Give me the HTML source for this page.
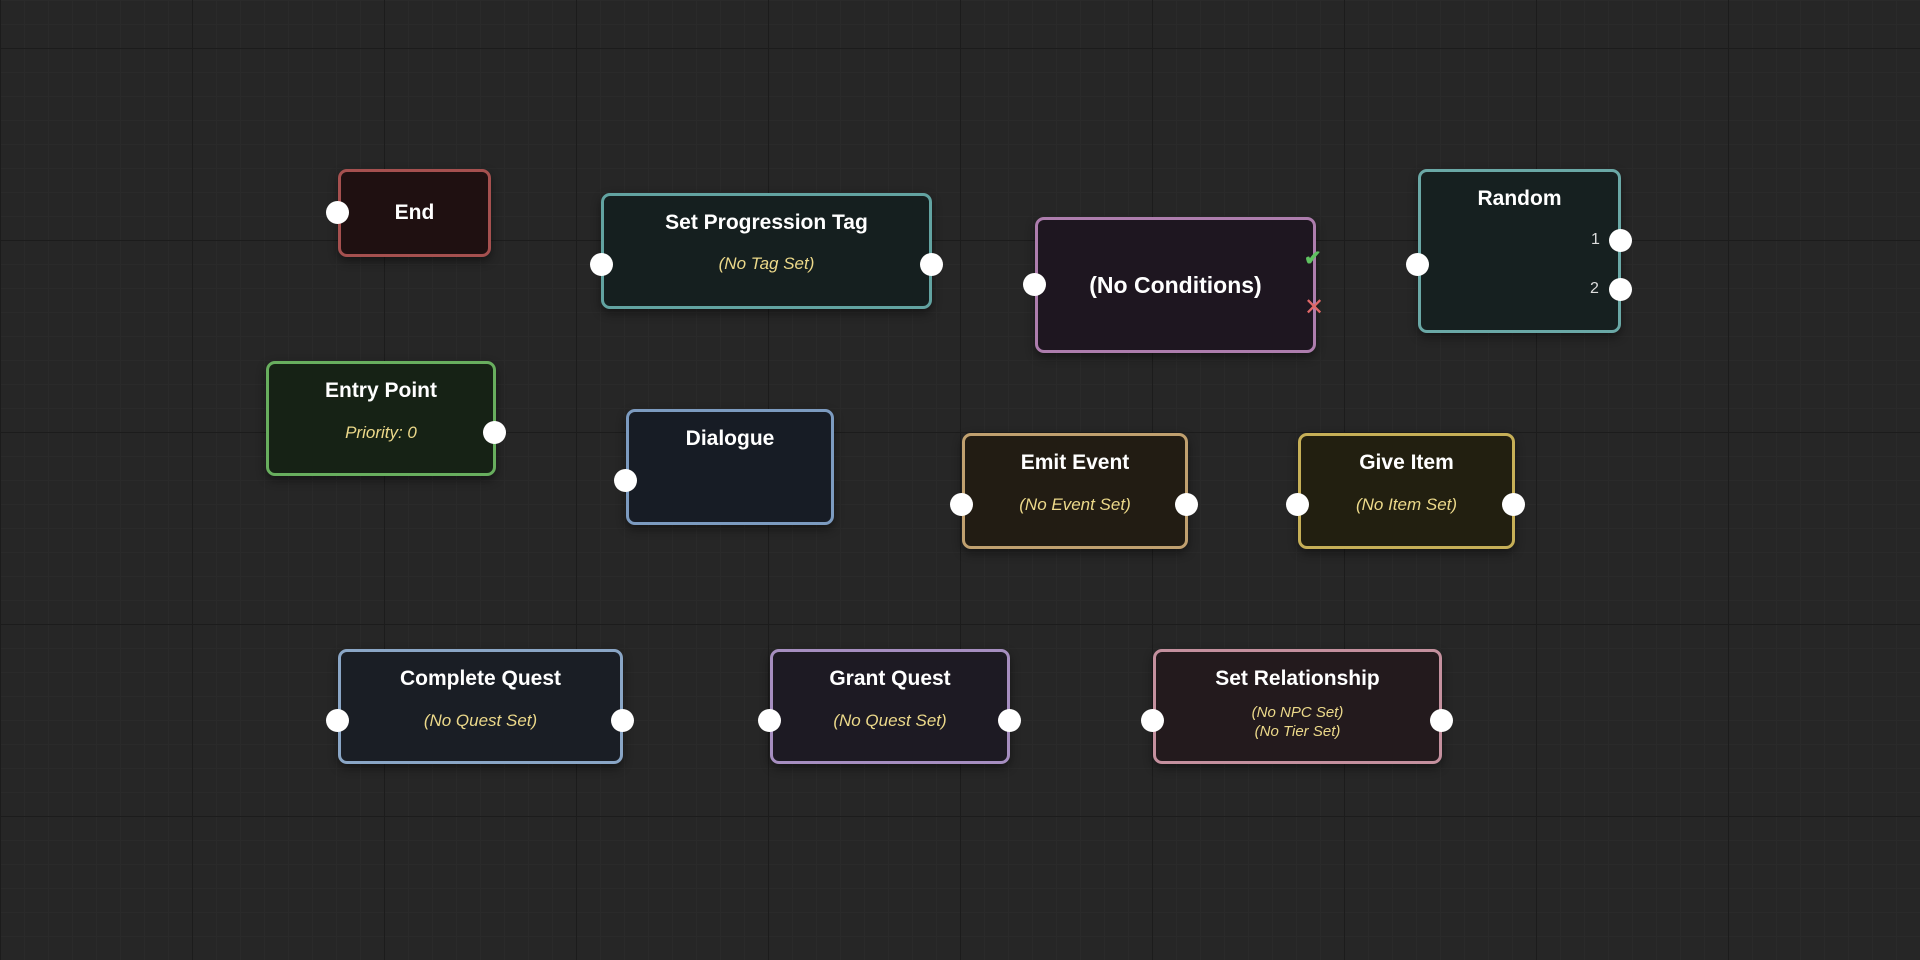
<!DOCTYPE html>
<html><head><meta charset="utf-8"><style>
html,body{margin:0;padding:0;width:1920px;height:960px;overflow:hidden;background:#262626;font-family:"Liberation Sans",sans-serif;}
.grid{position:absolute;inset:0;
background-image:
linear-gradient(to right,#1c1c1c 1px,transparent 1px),
linear-gradient(to bottom,#1c1c1c 1px,transparent 1px),
linear-gradient(to right,#2a2a2a 1px,transparent 1px),
linear-gradient(to bottom,#2a2a2a 1px,transparent 1px);
background-size:192px 192px,192px 192px,24px 24px,24px 24px;
background-position:0 48px,0 48px,0 0,0 0;}
.n{position:absolute;box-sizing:border-box;border:3px solid;border-radius:9px;box-shadow:0 4px 10px rgba(0,0,0,.45);}
.t{position:absolute;left:0;right:0;text-align:center;color:#fff;font-weight:bold;font-size:21px;line-height:24px;}
.s{position:absolute;left:0;right:0;text-align:center;color:#ecd98a;font-style:italic;font-size:17px;line-height:20px;}
.p{position:absolute;width:23px;height:23px;border-radius:50%;background:#fff;}
.lbl{position:absolute;color:#ddd;font-size:16px;}
</style></head><body>
<div class="grid"></div>

<div class="n" style="left:338px;top:169px;width:153px;height:88px;border-color:#a5504f;background:#1f1011;">
<div class="t" style="top:29px">End</div></div>
<div class="p" style="left:326px;top:201px"></div>

<div class="n" style="left:601px;top:193px;width:331px;height:116px;border-color:#62a3a1;background:#151f1f;">
<div class="t" style="top:15px">Set Progression Tag</div>
<div class="s" style="top:58px">(No Tag Set)</div></div>
<div class="p" style="left:590px;top:253px"></div>
<div class="p" style="left:920px;top:253px"></div>

<div class="n" style="left:1035px;top:217px;width:281px;height:136px;border-color:#ad7dad;background:#1e1620;">
<div class="t" style="top:53px;font-size:23px">(No Conditions)</div></div>
<div class="p" style="left:1023px;top:273px"></div>
<div style="position:absolute;left:1304px;top:247px;color:#5fc060;font-size:21px;font-weight:bold;line-height:24px">✔</div>
<div style="position:absolute;left:1304px;top:296px;color:#e06868;font-size:24px;line-height:24px">✕</div>

<div class="n" style="left:1418px;top:169px;width:203px;height:164px;border-color:#6aa8a6;background:#162020;">
<div class="t" style="top:15px">Random</div></div>
<div class="p" style="left:1406px;top:253px"></div>
<div class="lbl" style="left:1591px;top:231px">1</div>
<div class="lbl" style="left:1590px;top:280px">2</div>
<div class="p" style="left:1609px;top:229px"></div>
<div class="p" style="left:1609px;top:278px"></div>

<div class="n" style="left:266px;top:361px;width:230px;height:115px;border-color:#68ae5e;background:#162215;">
<div class="t" style="top:15px">Entry Point</div>
<div class="s" style="top:59px">Priority: 0</div></div>
<div class="p" style="left:483px;top:421px"></div>

<div class="n" style="left:626px;top:409px;width:208px;height:116px;border-color:#7c9bc0;background:#171c25;">
<div class="t" style="top:15px">Dialogue</div></div>
<div class="p" style="left:614px;top:469px"></div>

<div class="n" style="left:962px;top:433px;width:226px;height:116px;border-color:#c0a06f;background:#221c13;">
<div class="t" style="top:15px">Emit Event</div>
<div class="s" style="top:59px">(No Event Set)</div></div>
<div class="p" style="left:950px;top:493px"></div>
<div class="p" style="left:1175px;top:493px"></div>

<div class="n" style="left:1298px;top:433px;width:217px;height:116px;border-color:#c6af57;background:#221f10;">
<div class="t" style="top:15px">Give Item</div>
<div class="s" style="top:59px">(No Item Set)</div></div>
<div class="p" style="left:1286px;top:493px"></div>
<div class="p" style="left:1502px;top:493px"></div>

<div class="n" style="left:338px;top:649px;width:285px;height:115px;border-color:#8aa6c6;background:#1a1e25;">
<div class="t" style="top:15px">Complete Quest</div>
<div class="s" style="top:59px">(No Quest Set)</div></div>
<div class="p" style="left:326px;top:709px"></div>
<div class="p" style="left:611px;top:709px"></div>

<div class="n" style="left:770px;top:649px;width:240px;height:115px;border-color:#a68ec0;background:#1d1a23;">
<div class="t" style="top:15px">Grant Quest</div>
<div class="s" style="top:59px">(No Quest Set)</div></div>
<div class="p" style="left:758px;top:709px"></div>
<div class="p" style="left:998px;top:709px"></div>

<div class="n" style="left:1153px;top:649px;width:289px;height:115px;border-color:#c4909e;background:#231a1d;">
<div class="t" style="top:15px">Set Relationship</div>
<div class="s" style="top:51px;font-size:15px;line-height:19px">(No NPC Set)<br>(No Tier Set)</div></div>
<div class="p" style="left:1141px;top:709px"></div>
<div class="p" style="left:1430px;top:709px"></div>
</body></html>
